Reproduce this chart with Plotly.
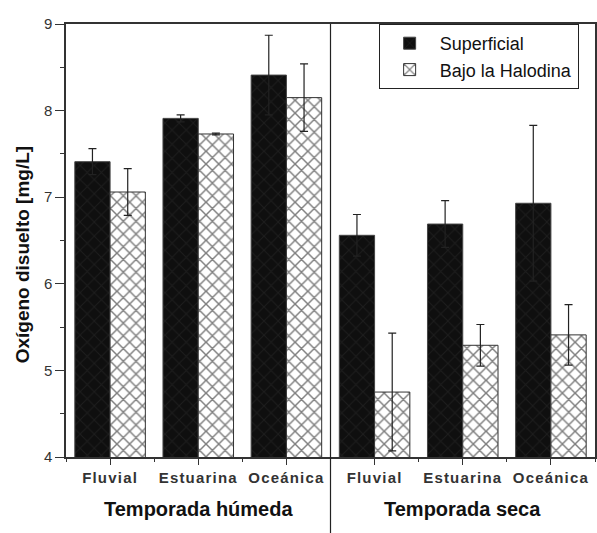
import plotly.graph_objects as go

# Dissolved oxygen by zone and season
sitios = ["Fluvial", "Estuarina", "Oceánica", "Fluvial", "Estuarina", "Oceánica"]
posiciones = [0.5, 1.5, 2.5, 3.5, 4.5, 5.5]
superficial = [7.41, 7.91, 8.41, 6.56, 6.69, 6.93]
superficial_err = [0.15, 0.04, 0.46, 0.24, 0.27, 0.90]
haloclina = [7.06, 7.73, 8.15, 4.75, 5.29, 5.41]
haloclina_err = [0.27, 0.01, 0.39, 0.68, 0.24, 0.35]
temporadas = ["Temporada húmeda", "Temporada seca"]
temporada_centro = [1.5, 4.5]

FONT = "Liberation Sans, Arial, sans-serif"
AXIS = "#333333"

fig = go.Figure()
fig.add_trace(go.Bar(
    name="Superficial", x=posiciones, y=superficial,
    error_y=dict(type="data", array=superficial_err, color="#222222", thickness=1.2, width=4),
    marker=dict(color="#0f0f0f", line=dict(color="#444444", width=1),
                pattern=dict(shape="x", fgcolor="#2c2c2c", bgcolor="#0f0f0f", size=10, solidity=0.18)),
))
fig.add_trace(go.Bar(
    name="Bajo la Halodina", x=posiciones, y=haloclina,
    error_y=dict(type="data", array=haloclina_err, color="#222222", thickness=1.2, width=4),
    marker=dict(color="white", line=dict(color="#333333", width=1),
                pattern=dict(shape="x", fgcolor="#000000", bgcolor="white", size=9, solidity=0.3)),
))

# season divider running down through the group labels
fig.add_shape(type="line", xref="x", yref="paper", x0=3, x1=3, y0=-0.2, y1=1,
              line=dict(color="#222222", width=1.2))

for txt, xc in zip(temporadas, temporada_centro):
    fig.add_annotation(text=txt, x=xc, xref="x", y=-0.12, yref="paper",
                       showarrow=False, yanchor="middle",
                       font=dict(family=FONT, size=20, color="#111111", weight="bold"))

fig.add_annotation(text="Oxígeno disuelto [mg/L]", textangle=-90,
                   x=-0.083, xref="paper", y=0.466, yref="paper",
                   showarrow=False, xanchor="center", yanchor="middle",
                   font=dict(family=FONT, size=19, color="#111111", weight="bold"))

fig.update_layout(
    width=597, height=533,
    margin=dict(l=66, r=0, t=24, b=76),
    paper_bgcolor="white", plot_bgcolor="white",
    barmode="group", bargap=0.2, bargroupgap=0,
    showlegend=True,
    legend=dict(x=0.591, y=1.0, xanchor="left", yanchor="top",
                bordercolor="#222222", borderwidth=1, bgcolor="white",
                font=dict(family=FONT, size=18, color="#111111"),
                tracegroupgap=0, itemwidth=50),
    font=dict(family=FONT, color=AXIS),
)
fig.update_xaxes(
    range=[0, 6], tickvals=posiciones,
    ticktext=['<span style="letter-spacing:1.2px">%s</span>' % s for s in sitios],
    ticks="outside", ticklen=6, tickwidth=1, tickcolor=AXIS,
    minor=dict(tickvals=[0, 1, 2, 3, 4, 5, 6], ticks="outside", ticklen=3, tickcolor=AXIS),
    showline=True, linecolor=AXIS, linewidth=1.5, mirror=True,
    showgrid=False, zeroline=False,
    tickfont=dict(family=FONT, size=15, color="#333333", weight="bold"),
)
fig.update_yaxes(
    range=[4, 9], dtick=1,
    ticks="outside", ticklen=9, tickwidth=1, tickcolor=AXIS,
    minor=dict(dtick=0.5, ticks="outside", ticklen=4, tickcolor=AXIS),
    showline=True, linecolor=AXIS, linewidth=1.5, mirror=True,
    showgrid=False, zeroline=False,
    tickfont=dict(family=FONT, size=15, color="#333333"),
)

fig.write_html("out.html")
